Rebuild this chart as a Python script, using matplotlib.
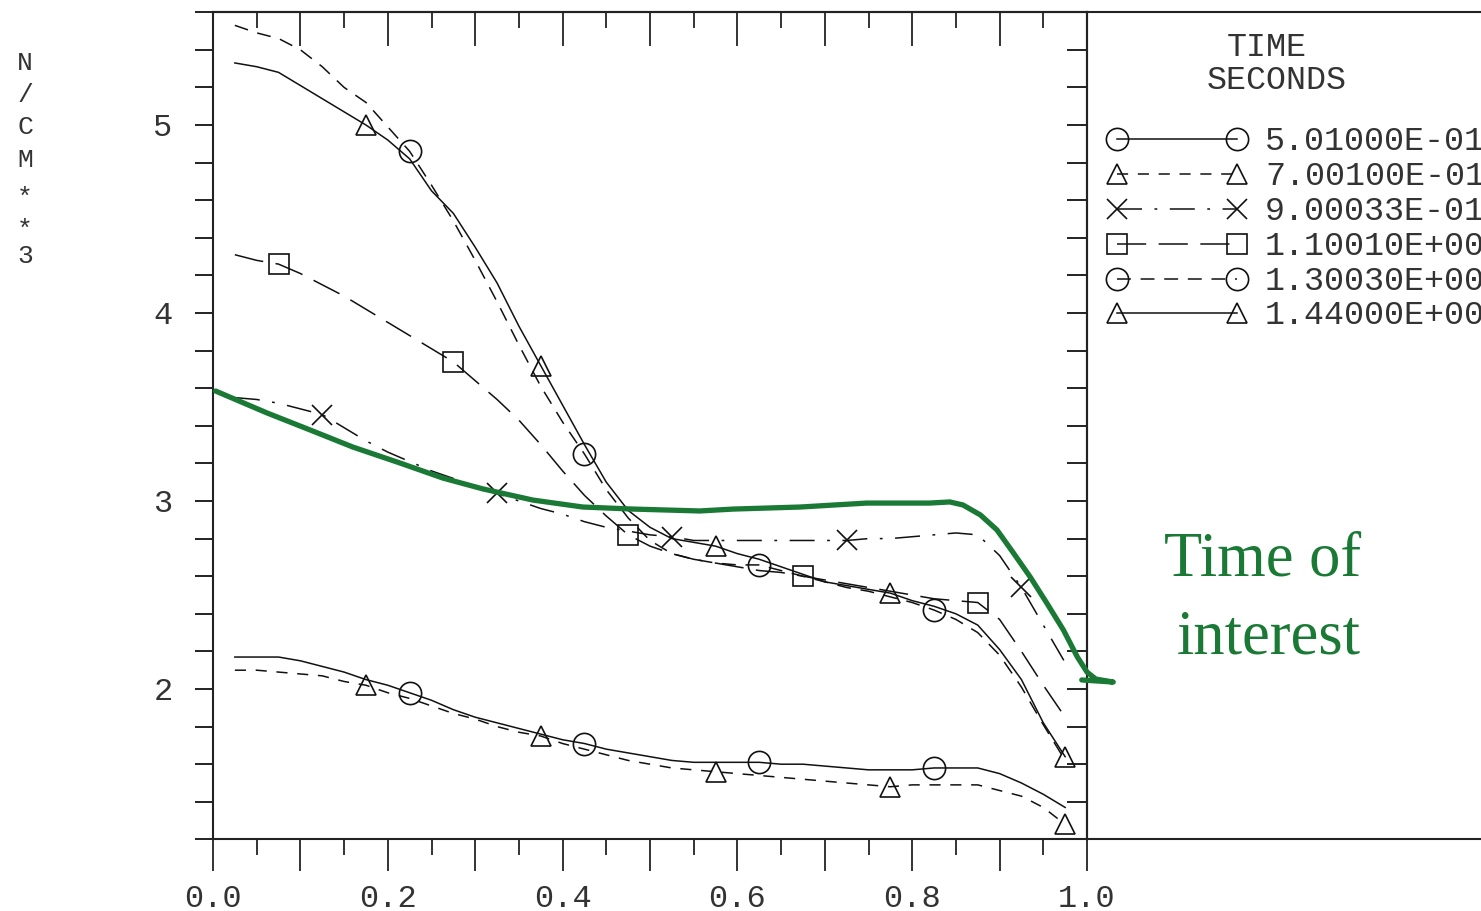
import matplotlib
matplotlib.use('Agg')
import matplotlib.pyplot as plt

plt.rcParams['font.family'] = ['Liberation Mono', 'DejaVu Sans Mono']
plt.rcParams['lines.scale_dashes'] = False

W, H = 1481, 911

# abscisa comun de las curvas
x = [0.025, 0.05, 0.075, 0.1, 0.125, 0.15, 0.175, 0.2, 0.225, 0.25,
     0.275, 0.3, 0.325, 0.35, 0.375, 0.4, 0.425, 0.45, 0.475, 0.5,
     0.525, 0.55, 0.575, 0.6, 0.625, 0.65, 0.675, 0.7, 0.725, 0.75,
     0.775, 0.8, 0.825, 0.85, 0.875, 0.9, 0.925, 0.95, 0.975]

times = ['5.01000E-01', '7.00100E-01', '9.00033E-01',
         '1.10010E+00', '1.30030E+00', '1.44000E+00']

t501 = [2.17, 2.17, 2.17, 2.15, 2.12, 2.09, 2.05, 2.02, 1.98, 1.94,
        1.89, 1.85, 1.82, 1.79, 1.76, 1.73, 1.71, 1.68, 1.66, 1.64,
        1.62, 1.61, 1.61, 1.61, 1.61, 1.60, 1.60, 1.59, 1.58, 1.57,
        1.57, 1.57, 1.58, 1.58, 1.58, 1.55, 1.50, 1.44, 1.37]
t700 = [2.10, 2.10, 2.09, 2.08, 2.07, 2.04, 2.02, 1.98, 1.95, 1.91,
        1.87, 1.84, 1.80, 1.77, 1.75, 1.71, 1.68, 1.65, 1.62, 1.60,
        1.58, 1.57, 1.56, 1.55, 1.54, 1.53, 1.52, 1.51, 1.50, 1.49,
        1.48, 1.49, 1.49, 1.49, 1.49, 1.46, 1.43, 1.37, 1.28]
t900 = [3.55, 3.54, 3.52, 3.49, 3.46, 3.39, 3.32, 3.26, 3.21, 3.16,
        3.12, 3.08, 3.04, 3.00, 2.96, 2.93, 2.89, 2.86, 2.84, 2.82,
        2.81, 2.79, 2.79, 2.79, 2.79, 2.79, 2.79, 2.79, 2.79, 2.80,
        2.80, 2.81, 2.82, 2.83, 2.82, 2.71, 2.54, 2.34, 2.14]
t1100 = [4.31, 4.28, 4.26, 4.21, 4.15, 4.09, 4.02, 3.95, 3.88, 3.81,
         3.74, 3.64, 3.54, 3.43, 3.30, 3.16, 3.03, 2.92, 2.82, 2.76,
         2.72, 2.69, 2.67, 2.65, 2.63, 2.62, 2.60, 2.58, 2.56, 2.54,
         2.52, 2.50, 2.48, 2.47, 2.46, 2.37, 2.20, 2.02, 1.85]
t1300 = [5.53, 5.49, 5.46, 5.40, 5.31, 5.20, 5.12, 4.99, 4.86, 4.68,
         4.49, 4.28, 4.06, 3.83, 3.61, 3.42, 3.25, 3.06, 2.91, 2.79,
         2.72, 2.69, 2.67, 2.66, 2.66, 2.63, 2.60, 2.57, 2.54, 2.52,
         2.49, 2.46, 2.42, 2.37, 2.30, 2.18, 2.01, 1.81, 1.62]
t1440 = [5.33, 5.31, 5.28, 5.21, 5.14, 5.07, 5.00, 4.92, 4.82, 4.65,
         4.53, 4.35, 4.16, 3.93, 3.72, 3.51, 3.30, 3.10, 2.95, 2.86,
         2.80, 2.78, 2.76, 2.72, 2.69, 2.65, 2.61, 2.57, 2.55, 2.53,
         2.51, 2.47, 2.44, 2.40, 2.34, 2.21, 2.05, 1.82, 1.64]

# posiciones de los simbolos en cada curva
marks_circ = [0.225, 0.425, 0.625, 0.825]
marks_tri = [0.175, 0.375, 0.575, 0.775, 0.975]
marks_x = [0.125, 0.325, 0.525, 0.725, 0.925]
marks_sq = [0.075, 0.275, 0.475, 0.675, 0.875]

# curva verde "time of interest"
green_x = [0.003, 0.062, 0.111, 0.160, 0.214, 0.263, 0.309, 0.366, 0.423,
           0.481, 0.557, 0.595, 0.672, 0.748, 0.820, 0.843, 0.858, 0.878,
           0.897, 0.915, 0.935, 0.954, 0.973, 0.989, 1.000, 1.010, 1.030,
           0.994]
green_y = [3.585, 3.468, 3.378, 3.287, 3.202, 3.122, 3.064, 3.005, 2.968,
           2.957, 2.947, 2.957, 2.968, 2.989, 2.989, 2.995, 2.979, 2.926,
           2.846, 2.729, 2.596, 2.457, 2.314, 2.170, 2.090, 2.053, 2.037,
           2.048]

series = [t501, t700, t900, t1100, t1300, t1440]
marks = [marks_circ, marks_tri, marks_x, marks_sq, marks_circ, marks_tri]
symbols = ['o', '^', 'x', 's', 'o', '^']
sizes = [16, 15, 15, 14, 16, 15]
dashes = [None, (8, 7), (18, 9, 2, 9), (21, 9), (10, 7), None]

GREEN = '#1a7a35'
INK = '#111111'
TXT = '#333333'

fig = plt.figure(figsize=(W / 100, H / 100), dpi=100)
ax = fig.add_axes([213 / W, 1 - 839.4 / H, 874 / W, 827.2 / H])
lax = fig.add_axes([1087 / W, 1 - 839.4 / H, (1700 - 1087) / W, 827.2 / H])
lax.patch.set_visible(False)
ax.set_zorder(2)
ax.patch.set_visible(False)


def style(d):
    return '-' if d is None else (0, d)


for vals, mk_x, sym, ms, d in zip(series, marks, symbols, sizes, dashes):
    idx = [x.index(m) for m in mk_x]
    ax.plot(x, vals, color=INK, lw=1.1, ls=style(d), marker=sym, ms=ms,
            markevery=idx, mfc='none', mec=INK, mew=1.2)

ax.plot(green_x, green_y, color=GREEN, lw=3.8, clip_on=False, zorder=6,
        solid_capstyle='round', solid_joinstyle='round')

ax.set_xlim(0, 1)
ax.set_ylim(1.2, 5.6)

xmaj = [i / 10 for i in range(11)]
xmin = [i / 20 for i in range(1, 20, 2)]
ymaj = [round(1.2 + 0.2 * i, 1) for i in range(23)]

ax.set_xticks(xmaj)
ax.set_xticks(xmin, minor=True)
ax.set_xticklabels([f'{v:.1f}' if round(v * 10) % 2 == 0 else '' for v in xmaj])
ax.set_yticks(ymaj)
ax.set_yticklabels([str(int(round(v))) if abs(v - round(v)) < 1e-6 else '' for v in ymaj])
ax.tick_params(axis='x', which='major', direction='out', length=23, width=1.2,
               pad=9, labelsize=23, labelcolor=TXT, color=INK)
ax.tick_params(axis='x', which='minor', direction='out', length=11.5, width=1.2, color=INK)
ax.tick_params(axis='y', which='major', direction='out', length=13, width=1.3,
               pad=16, labelsize=23, labelcolor=TXT, color=INK)

top = ax.secondary_xaxis('top')
top.set_xticks(xmaj)
top.set_xticks(xmin, minor=True)
top.set_xticklabels([])
top.tick_params(which='major', direction='in', length=24.5, width=1.2, color=INK)
top.tick_params(which='minor', direction='in', length=11.5, width=1.2, color=INK)

right = ax.secondary_yaxis('right')
right.set_yticks(ymaj)
right.set_yticklabels([])
right.tick_params(direction='in', length=14.5, width=1.3, color=INK)

for a in (ax, top, right):
    for s in a.spines.values():
        s.set_linewidth(1.5)
        s.set_color('#222222')

# panel de leyenda a la derecha
lax.set_xlim(1087, 1700)
lax.set_ylim(839.4, 12.2)
lax.set_xticks([])
lax.set_yticks([])
lax.spines['left'].set_visible(False)
lax.spines['right'].set_visible(False)
for s in ('top', 'bottom'):
    lax.spines[s].set_linewidth(1.5)
    lax.spines[s].set_color('#222222')

lax.text(1267, 48, 'TIME', ha='center', va='center', fontsize=24, color=TXT)
lax.text(1277, 81, 'SECONDS', ha='center', va='center', fontsize=24, color=TXT)

rows = [139, 174, 209, 244, 279, 313]
for ry, lab, sym, ms, d in zip(rows, times, symbols, sizes, dashes):
    lax.plot([1117, 1237], [ry, ry], color=INK, lw=1.1, ls=style(d), marker=sym,
             ms=ms, mfc='none', mec=INK, mew=1.2, clip_on=False)
    lax.text(1265, ry + 3, lab, ha='left', va='center', fontsize=24, color=TXT)

# etiqueta vertical del eje y
for i, ch in enumerate('N/CM**3'):
    py = 63 + 32.2 * i + (6 if ch == '*' else 0)
    fig.text(25 / W, 1 - py / H, ch, ha='center', va='center', fontsize=19, color=TXT)

fig.text(1263 / W, 1 - 575 / H, 'Time of', ha='center', va='baseline',
         fontsize=45, family='Liberation Serif', color=GREEN)
fig.text(1269 / W, 1 - 653 / H, 'interest', ha='center', va='baseline',
         fontsize=45, family='Liberation Serif', color=GREEN)

fig.savefig('out.png', dpi=100)
